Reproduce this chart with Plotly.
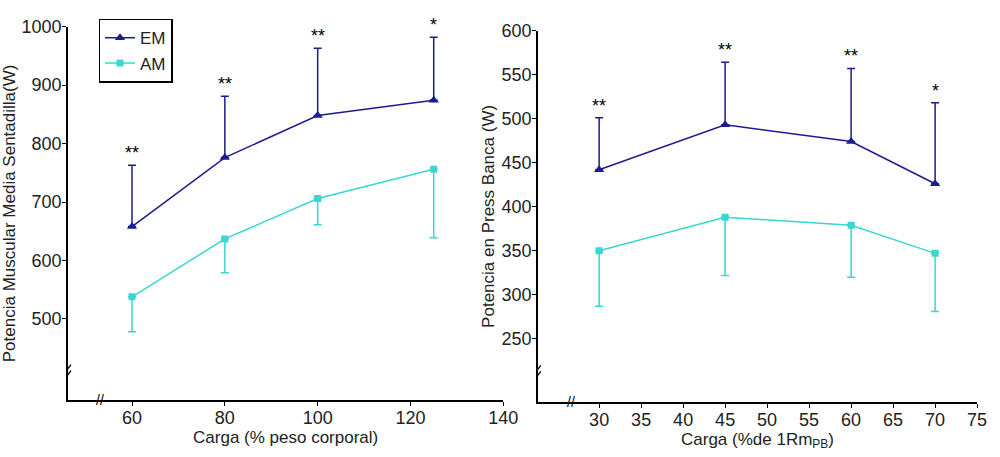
import plotly.graph_objects as go

# ---------------- data ----------------
loads_left = [60, 80, 100, 125]
em_left = [658, 776, 848, 874]
em_left_sd = [105, 105, 115, 108]
am_left = [538, 637, 706, 756]
am_left_sd = [60, 58, 45, 117]
sig_left = ["**", "**", "**", "*"]

loads_right = [30, 45, 60, 70]
em_right = [442, 493, 474, 426]
em_right_sd = [59, 71, 83, 92]
am_right = [350, 388, 379, 347]
am_right_sd = [63, 66, 59, 66]
sig_right = ["**", "**", "**", "*"]

left_xticks = [60, 80, 100, 120, 140]
left_yticks = [500, 600, 700, 800, 900, 1000]
right_xticks = [30, 35, 40, 45, 50, 55, 60, 65, 70, 75]
right_yticks = [250, 300, 350, 400, 450, 500, 550, 600]

EM_COLOR = "#1c1c8e"
AM_COLOR = "#3ad6d2"
FONT = "Liberation Sans, Arial, sans-serif"
TXT = "#222222"

fig = go.Figure()


def add_series(x, y, sd, up, color, symbol, size, name, xa, ya, showlegend):
    fig.add_trace(go.Scatter(
        x=x, y=y, name=name, mode="lines+markers",
        line=dict(color=color, width=1.5),
        marker=dict(symbol=symbol, size=size, color=color),
        error_y=dict(type="data", symmetric=False,
                     array=sd if up else [0] * len(sd),
                     arrayminus=[0] * len(sd) if up else sd,
                     color=color, thickness=1.5, width=4),
        xaxis=xa, yaxis=ya, showlegend=showlegend,
    ))


add_series(loads_left, em_left, em_left_sd, True, EM_COLOR, "triangle-up", 9, "EM", "x", "y", True)
add_series(loads_left, am_left, am_left_sd, False, AM_COLOR, "square", 7, "AM", "x", "y", True)
add_series(loads_right, em_right, em_right_sd, True, EM_COLOR, "triangle-up", 9, "EM", "x2", "y2", False)
add_series(loads_right, am_right, am_right_sd, False, AM_COLOR, "square", 7, "AM", "x2", "y2", False)

annotations = []
star_font = dict(size=18, color="black", family=FONT)
for x, y, s, t in zip(loads_left, em_left, em_left_sd, sig_left):
    annotations.append(dict(x=x, y=y + s, xref="x", yref="y", text=t, showarrow=False,
                            yanchor="bottom", yshift=0, font=star_font))
for x, y, s, t in zip(loads_right, em_right, em_right_sd, sig_right):
    annotations.append(dict(x=x, y=y + s, xref="x2", yref="y2", text=t, showarrow=False,
                            yanchor="bottom", yshift=0, font=star_font))

# x-axis break marks
brk = dict(showarrow=False, font=dict(size=14, color="black", family=FONT))
annotations.append(dict(x=53.2, y=361, xref="x", yref="y", text="//", **brk))
annotations.append(dict(x=26.7, y=178, xref="x2", yref="y2", text="//", **brk))

# y-axis break marks (two short slanted strokes, pixel-sized, anchored on the axis)
shapes = []
for xa, ya, xv, yv in [("x", "y", 46.2, 410), ("x2", "y2", 22.7, 212)]:
    for dy in (-3, 3):
        shapes.append(dict(type="line", xref=xa, yref=ya,
                           xsizemode="pixel", ysizemode="pixel",
                           xanchor=xv, yanchor=yv,
                           x0=-3, x1=3, y0=dy - 4, y1=dy + 4,
                           line=dict(color="black", width=1.3)))

axis_common = dict(showline=True, linecolor="black", linewidth=1.5, showgrid=False,
                   zeroline=False, ticks="outside", ticklen=4, tickwidth=1.2,
                   tickcolor="black", mirror=False,
                   tickfont=dict(size=18, color=TXT, family=FONT))

fig.update_layout(
    width=1000, height=457,
    margin=dict(l=0, r=0, t=0, b=0),
    paper_bgcolor="white", plot_bgcolor="white",
    font=dict(family=FONT, color=TXT),
    xaxis=dict(domain=[0.069, 0.511], range=[46.2, 140], tickvals=left_xticks,
               ticklabelstandoff=-4,
               title=dict(text="Carga (% peso corporal)", font=dict(size=17, color=TXT), standoff=0),
               anchor="y", **axis_common),
    yaxis=dict(domain=[1 - 399 / 457, 1 - 17 / 457], range=[361, 1000], tickvals=left_yticks,
               ticklabelstandoff=-3,
               title=dict(text="Potencia Muscular Media Sentadilla(W)", font=dict(size=17, color=TXT), standoff=2),
               anchor="x", **axis_common),
    xaxis2=dict(domain=[0.546, 0.992], range=[22.7, 75], tickvals=right_xticks,
                ticklabelstandoff=-4,
                title=dict(text="Carga (%de 1Rm<sub>PB</sub>)", font=dict(size=17, color=TXT), standoff=0),
                anchor="y2", **axis_common),
    yaxis2=dict(domain=[1 - 401 / 457, 1 - 21 / 457], range=[178, 600], tickvals=right_yticks,
                ticklabelstandoff=-3,
                title=dict(text="Potencia en Press Banca (W)", font=dict(size=17, color=TXT), standoff=2),
                anchor="x2", **axis_common),
    legend=dict(x=0.1, y=1 - 9 / 457, xanchor="left", yanchor="top",
                bordercolor="black", borderwidth=1.5, bgcolor="white",
                font=dict(size=17, color=TXT, family=FONT), itemwidth=30,
                tracegroupgap=0),
    annotations=annotations,
    shapes=shapes,
)

fig.write_html("out.html")
